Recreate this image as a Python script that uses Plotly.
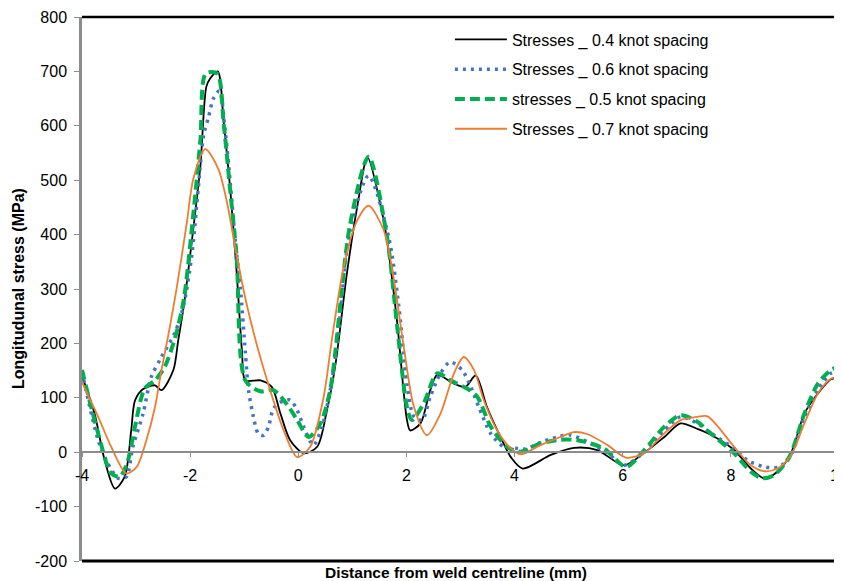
import plotly.graph_objects as go

# ---- data ----
x_04 = [-4.0, -3.77, -3.58, -3.39, -3.21, -3.09, -3.02, -2.87, -2.65, -2.53, -2.31, -2.22, -2.12, -1.94, -1.81,
        -1.70, -1.63, -1.49, -1.38, -1.26, -1.14, -1.04, -0.98, -0.70, -0.49, -0.33, -0.15, 0.10, 0.35, 0.53,
        0.69, 0.90, 1.09, 1.28, 1.52, 1.64, 1.83, 2.01, 2.07, 2.26, 2.44, 2.57, 2.88, 3.09, 3.28, 3.49, 3.74,
        3.93, 4.15, 4.67, 5.10, 5.53, 6.02, 6.40, 6.77, 7.07, 7.38, 7.63, 8.06, 8.37, 8.62, 8.86, 9.11, 9.36,
        9.61, 9.85, 10.0]
y_04 = [140, 72, -15, -67, -45, 40, 95, 116, 123, 114, 151, 206, 267, 412, 527,
        672, 687, 700, 607, 485, 331, 184, 132, 132, 120, 71, 22, -2, 10, 77,
        163, 329, 451, 542, 455, 390, 237, 59, 40, 53, 114, 142, 126, 120, 141, 83, 28,
        -9, -30, -5, 8, 4, -24, -1, 28, 53, 43, 32, 4, -30, -48, -36, -2, 71,
        108, 134, 137]

x_06 = [-4.0, -3.70, -3.52, -3.33, -3.18, -3.06, -2.87, -2.72, -2.53, -2.28, -2.12, -1.97, -1.85, -1.75, -1.66,
        -1.57, -1.46, -1.35, -1.26, -1.17, -1.07, -0.98, -0.92, -0.83, -0.74, -0.64, -0.55, -0.46, -0.33, -0.15,
        -0.02, 0.10, 0.28, 0.44, 0.59, 0.72, 0.96, 1.30, 1.67, 1.86, 2.01, 2.14, 2.29, 2.44, 2.63, 2.81, 3.03,
        3.19, 3.34, 3.56, 3.80, 4.05, 4.20, 4.51, 4.79, 5.01, 5.35, 5.72, 6.02, 6.40, 6.77, 7.07, 7.38, 7.60,
        8.06, 8.31, 8.62, 8.89, 9.11, 9.36, 9.61, 9.85, 10.0]
y_06 = [147, 22, -21, -48, -45, 10, 71, 138, 175, 220, 270, 362, 485, 583, 616,
        650, 664, 589, 497, 393, 301, 184, 114, 65, 34, 31, 47, 80, 92, 96,
        77, 47, 13, 47, 114, 200, 408, 508, 396, 267, 126, 65, 59, 102, 145, 166, 151,
        120, 83, 34, 10, 7, 6, 19, 28, 32, 19, -2, -24, 1, 40, 65, 53, 37,
        7, -15, -27, -27, -6, 65, 114, 145, 148]

x_05 = [-4.0, -3.70, -3.46, -3.30, -3.15, -3.02, -2.84, -2.65, -2.47, -2.28, -2.12, -1.94, -1.81, -1.71, -1.50,
        -1.38, -1.26, -1.14, -0.98, -0.70, -0.46, -0.21, -0.02, 0.19, 0.41, 0.59, 0.96, 1.30, 1.64, 1.83,
        2.01, 2.10, 2.32, 2.57, 2.81, 3.12, 3.31, 3.56, 3.86, 4.11, 4.48, 4.85, 5.16, 5.65, 6.06, 6.40,
        6.77, 7.07, 7.38, 7.60, 8.06, 8.37, 8.58, 8.80, 9.08, 9.36, 9.61, 9.85, 10.0]
y_05 = [151, 34, -39, -45, -15, 47, 117, 132, 157, 210, 279, 439, 574, 696, 696,
        604, 482, 359, 132, 112, 114, 88, 59, 28, 53, 114, 420, 543, 396, 230,
        83, 59, 90, 145, 132, 117, 102, 47, 10, 1, 16, 23, 22, 7, -27, 4,
        47, 68, 56, 37, -2, -36, -48, -42, -9, 71, 126, 151, 157]

x_07 = [-4.0, -3.70, -3.46, -3.18, -2.99, -2.81, -2.65, -2.53, -2.41, -2.25, -2.06, -1.94, -1.72, -1.48, -1.32,
        -1.14, -0.95, -0.73, -0.52, -0.27, -0.02, 0.22, 0.47, 0.62, 0.84, 1.09, 1.30, 1.58, 1.77, 1.95,
        2.14, 2.38, 2.63, 2.88, 3.06, 3.25, 3.43, 3.68, 3.93, 4.11, 4.48, 4.85, 5.10, 5.35, 5.72, 6.06,
        6.40, 6.70, 7.07, 7.38, 7.57, 8.06, 8.37, 8.62, 8.86, 9.11, 9.36, 9.61, 9.85, 10.0]
y_07 = [129, 65, 10, -39, -27, 22, 83, 151, 212, 301, 423, 503, 557, 521, 460,
        362, 270, 184, 114, 40, -9, 10, 102, 206, 341, 426, 453, 408, 316, 194,
        83, 31, 71, 145, 175, 151, 96, 40, 7, -4, 13, 28, 37, 33, 13, -10,
        -2, 28, 59, 65, 66, 10, -24, -35, -30, -6, 53, 108, 135, 137]

names = ["Stresses _ 0.4 knot spacing", "Stresses _ 0.6 knot spacing",
         "stresses _ 0.5 knot spacing", "Stresses _ 0.7 knot spacing"]
x_ticks = [-4, -2, 0, 2, 4, 6, 8, 10]
y_ticks = [-200, -100, 0, 100, 200, 300, 400, 500, 600, 700, 800]

FONT = "Liberation Sans, Arial, sans-serif"

fig = go.Figure()
series = [
    (x_04, y_04, names[0], dict(color="#000000", width=1.8)),
    (x_06, y_06, names[1], dict(color="#4472C4", width=3.5, dash="3px,5px")),
    (x_05, y_05, names[2], dict(color="#00B050", width=4, dash="10px,5px")),
    (x_07, y_07, names[3], dict(color="#ED7D31", width=1.8)),
]
for i, (xs, ys, nm, ln) in enumerate(series):
    ln = dict(ln)
    ln["shape"] = "spline"
    ln["smoothing"] = 0.8
    fig.add_trace(go.Scatter(x=xs, y=ys, mode="lines", name=nm, line=ln,
                             legendgroup=str(i)))

# page body has an 8px margin, so the figure is sized to fill the rest of the window
fig.update_layout(
    width=834, height=573,
    margin=dict(l=74, r=3, t=9, b=20, autoexpand=False),
    paper_bgcolor="white", plot_bgcolor="white",
    font=dict(family=FONT, size=16, color="#000000"),
    showlegend=True,
    legend=dict(x=0.486, y=0.99, xanchor="left", yanchor="top",
                bgcolor="rgba(0,0,0,0)", font=dict(size=16),
                tracegroupgap=6, itemwidth=52),
    xaxis=dict(range=[-4, 10], tickvals=x_ticks, ticktext=[str(v) for v in x_ticks],
               showgrid=False, zeroline=False, showline=True, linecolor="#8c8c8c", linewidth=2,
               ticks="outside", ticklen=4, tickcolor="#8c8c8c", ticklabelstandoff=5,
               ticklabeloverflow="allow", automargin=False,
               anchor="free", position=0.2, tickfont=dict(size=16)),
    yaxis=dict(range=[-200, 800], tickvals=y_ticks, ticktext=[str(v) for v in y_ticks],
               showgrid=False, zeroline=False, showline=True, linecolor="#8c8c8c", linewidth=2.5,
               ticks="outside", ticklen=5, tickcolor="#8c8c8c", ticklabelstandoff=4,
               automargin=False, tickfont=dict(size=16)),
    shapes=[
        dict(type="line", xref="paper", yref="paper", x0=0, x1=1, y0=1, y1=1,
             line=dict(color="black", width=2.5)),
        dict(type="line", xref="paper", yref="paper", x0=1, x1=1, y0=0, y1=1,
             line=dict(color="black", width=2.5)),
        dict(type="line", xref="paper", yref="paper", x0=0, x1=1, y0=0, y1=0,
             line=dict(color="black", width=3)),
    ],
    annotations=[
        dict(text="<b>Distance from weld centreline (mm)</b>", xref="paper", yref="paper",
             x=0.494, y=-0.0215, xanchor="center", yanchor="middle", showarrow=False,
             font=dict(size=15.5)),
        dict(text="<b>Longitudunal stress (MPa)</b>", xref="paper", yref="paper",
             x=-0.0845, y=0.5, xanchor="center", yanchor="middle", showarrow=False,
             textangle=-90, font=dict(size=16)),
    ],
)

fig.write_html("out.html")
